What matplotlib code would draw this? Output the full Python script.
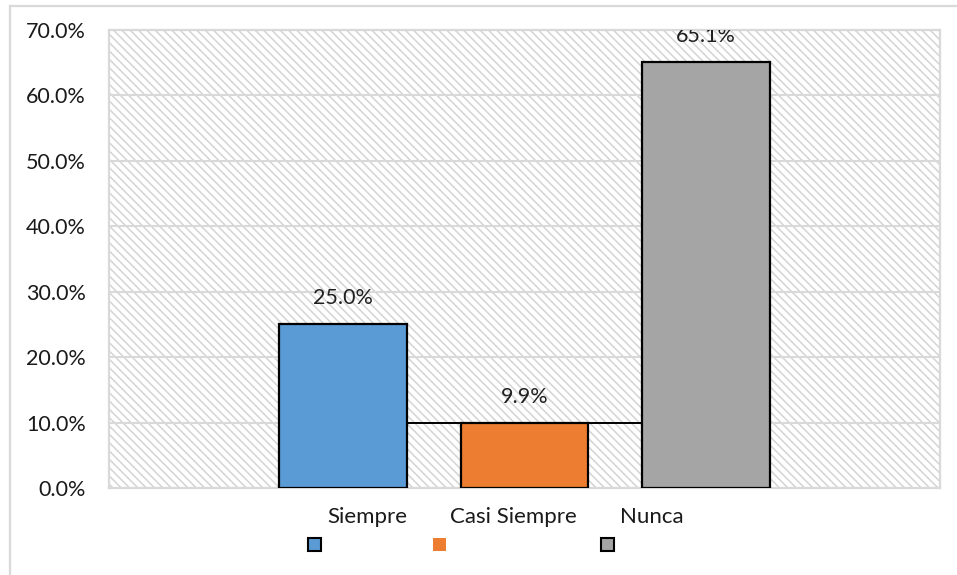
import matplotlib
matplotlib.use('Agg')
import matplotlib.pyplot as plt
from matplotlib.patches import Rectangle
from matplotlib.lines import Line2D

# Data
categories = ['Siempre', 'Casi Siempre', 'Nunca']
values = [25.0, 9.9, 65.1]
colors = ['#5b9bd5', '#ed7d31', '#a5a5a5']
legend_edges = ['black', 'none', 'black']
y_ticks = [0, 10, 20, 30, 40, 50, 60, 70]

plt.rcParams['font.family'] = ['Lato', 'DejaVu Sans']
plt.rcParams['hatch.linewidth'] = 1.1

fig = plt.figure(figsize=(9.57, 5.75), dpi=100)
ax = fig.add_axes([0.1139, 0.1513, 0.9822 - 0.1139, 0.9478 - 0.1513])

# hatched plot-area background
ax.set_facecolor('white')
bg = Rectangle((0, 0), 1, 1, transform=ax.transAxes, facecolor='white',
               edgecolor='#d4d4d4', hatch='\\\\\\\\', linewidth=0, zorder=0)
ax.add_patch(bg)

bar_w = 0.703
x = list(range(len(categories)))
ax.bar(x, values, width=bar_w, color=colors, edgecolor='black',
       linewidth=1.6, zorder=3)

# connector line at the middle bar's level
ax.plot([x[0] + bar_w / 2, x[2] - bar_w / 2], [values[1], values[1]],
        color='black', linewidth=1.4, zorder=2)

for xi, v in zip(x, values):
    ax.text(xi, v + 4.0, f'{v:.1f}%', ha='center', va='center',
            fontsize=15.5, color='#202020', zorder=4, clip_on=True)

ax.set_xlim(-1.286, 3.286)
ax.set_ylim(0, 70)
ax.set_yticks(y_ticks)
ax.set_yticklabels([f'{t:.1f}%' for t in y_ticks], fontsize=15.5, color='#1a1a1a')
ax.set_xticks([])
ax.tick_params(axis='y', length=0, pad=16.5)
ax.yaxis.grid(True, color='#d9d9d9', linewidth=1.5, zorder=1)
ax.set_axisbelow(True)
for s in ax.spines.values():
    s.set_color('#d9d9d9')
    s.set_linewidth(1.6)

# legend: labels above, swatches below
W, H = 957, 575
text_pos = [367, 513, 652]
box_pos = [314, 439, 607]
for name, tx in zip(categories, text_pos):
    fig.text(tx / W, 1 - 517 / H, name, ha='center', va='center',
             fontsize=16, color='#1a1a1a')
for col, ec, bx in zip(colors, legend_edges, box_pos):
    fig.patches.append(Rectangle(((bx - 6.5) / W, 1 - 550.5 / H), 13 / W, 13 / H,
                                 transform=fig.transFigure, facecolor=col,
                                 edgecolor=ec, linewidth=1.5))

# outer chart frame (left and top edges)
fig.lines.append(Line2D([10 / W, 10 / W], [0, 1 - 6 / H], transform=fig.transFigure,
                        color='#d9d9d9', linewidth=1.6))
fig.lines.append(Line2D([10 / W, 1], [1 - 6 / H, 1 - 6 / H], transform=fig.transFigure,
                        color='#d9d9d9', linewidth=1.6))

fig.savefig('out.png', dpi=100)
